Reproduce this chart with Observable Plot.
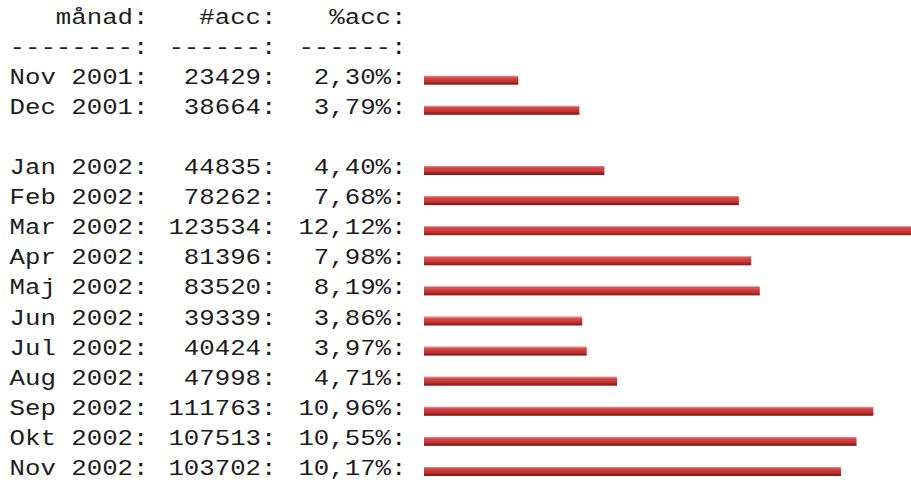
<!DOCTYPE html>
<html>
<head>
<meta charset="utf-8">
<script src="https://cdn.jsdelivr.net/npm/d3@7"></script>
<script src="https://cdn.jsdelivr.net/npm/@observablehq/plot@0.6"></script>
<style>
  html, body { margin: 0; padding: 0; background: #fff; overflow: hidden; }
  #chart svg { display: block; }
</style>
</head>
<body>
<div id="chart"></div>
<script>
// ---- data ----
const months = ["Nov 2001", "Dec 2001", "Jan 2002", "Feb 2002", "Mar 2002", "Apr 2002",
  "Maj 2002", "Jun 2002", "Jul 2002", "Aug 2002", "Sep 2002", "Okt 2002", "Nov 2002"];
const counts = [23429, 38664, 44835, 78262, 123534, 81396, 83520, 39339, 40424, 47998, 111763, 107513, 103702];
const pcts = [2.30, 3.79, 4.40, 7.68, 12.12, 7.98, 8.19, 3.86, 3.97, 4.71, 10.96, 10.55, 10.17];
const headers = ["månad:", "#acc:", "%acc:"];
const dashes = ["--------:", "------:", "------:"];

// ---- table rows ----
const rowKeys = ["hdr", "dash", "Nov 2001", "Dec 2001", "gap", ...months.slice(2)];
const data = months.map((m, i) => ({
  key: m,
  month: m + ":",
  count: counts[i] + ":",
  pct: pcts[i].toFixed(2).replace(".", ",") + "%:",
  value: pcts[i]
}));
const hdrRow = [{key: "hdr", c0: headers[0], c1: headers[1], c2: headers[2]},
                {key: "dash", c0: dashes[0], c1: dashes[1], c2: dashes[2]}];

const colRight = [148, 276, 406];
const font = {fontFamily: "'Courier New', 'Liberation Mono', monospace", fontSize: 22, fill: "#1c1c1c", textAnchor: "end", frameAnchor: "left", dy: -4};

const plot = Plot.plot({
  width: 911,
  height: 480,
  marginLeft: 0, marginRight: 0, marginTop: 0, marginBottom: 0,
  x: {domain: [0, 10], range: [424, 834], axis: null},
  y: {type: "band", domain: rowKeys, range: [15.5, 476], paddingInner: 0.7, paddingOuter: 0, round: false, axis: null},
  marks: [
    Plot.barX(data, {y: "key", x1: 0, x2: "value", fill: "url(#barGrad)", inset: 0}),
    Plot.text(hdrRow, {y: "key", text: "c0", dx: colRight[0], ...font}),
    Plot.text(hdrRow, {y: "key", text: "c1", dx: colRight[1], ...font}),
    Plot.text(hdrRow, {y: "key", text: "c2", dx: colRight[2], ...font}),
    Plot.text(data, {y: "key", text: "month", dx: colRight[0], ...font}),
    Plot.text(data, {y: "key", text: "count", dx: colRight[1], ...font}),
    Plot.text(data, {y: "key", text: "pct", dx: colRight[2], ...font})
  ]
});

// gradient for the bars
const ns = "http://www.w3.org/2000/svg";
const defs = document.createElementNS(ns, "defs");
const grad = document.createElementNS(ns, "linearGradient");
grad.setAttribute("id", "barGrad");
grad.setAttribute("x1", "0"); grad.setAttribute("y1", "0");
grad.setAttribute("x2", "0"); grad.setAttribute("y2", "1");
const stops = [
  [0, "#e57a7a"], [0.12, "#e57a7a"],
  [0.12, "#d85454"], [0.25, "#d85454"],
  [0.25, "#cf4040"], [0.5, "#cf4040"],
  [0.5, "#c23434"], [0.72, "#c23434"],
  [0.72, "#a52828"], [0.82, "#a52828"],
  [0.82, "#8c1f1f"], [1, "#8c1f1f"]
];
for (const [o, c] of stops) {
  const s = document.createElementNS(ns, "stop");
  s.setAttribute("offset", o);
  s.setAttribute("stop-color", c);
  grad.appendChild(s);
}
defs.appendChild(grad);
plot.insertBefore(defs, plot.firstChild);

// widen the monospace glyphs horizontally to match the wide typewriter look
plot.querySelectorAll("text").forEach(t => {
  const tr = t.getAttribute("transform") || "";
  t.setAttribute("transform", tr + " scale(1.17,1)");
});

document.getElementById("chart").appendChild(plot);
</script>
</body>
</html>
